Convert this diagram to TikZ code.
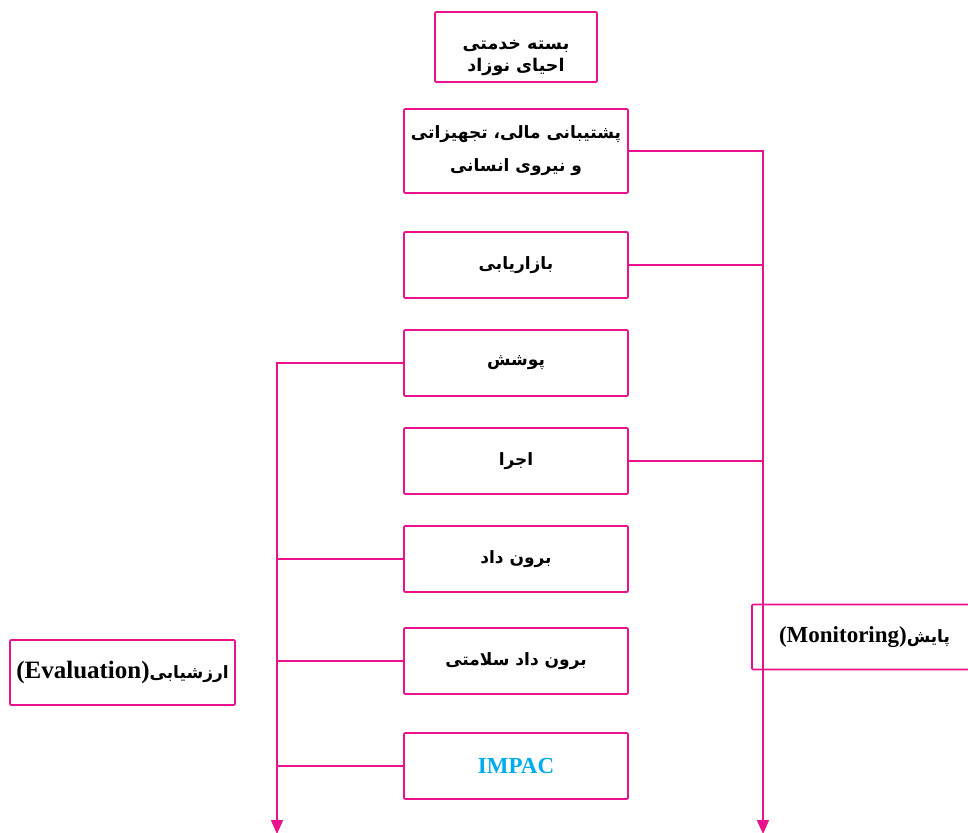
\documentclass[tikz,border=0pt]{standalone}
\usepackage{fontspec}
\usepackage{xcolor}
\usetikzlibrary{arrows.meta}
\setmainfont{Liberation Serif}
\newfontfamily\arabicfont[Script=Arabic]{DejaVu Sans}
\TeXXeTstate=1
\definecolor{linepink}{RGB}{234,18,140}
\definecolor{impaccyan}{RGB}{0,172,236}

\begin{document}
\begin{tikzpicture}[x=1pt, y=-1pt,
  stepbox/.style={draw=linepink, line width=1.6pt, rounded corners=1pt,
    minimum width=224pt, minimum height=66pt, inner sep=0pt, align=center,
    font=\arabicfont\bfseries\fontsize{17}{33}\selectfont},
  sidebox/.style={stepbox, minimum width=225pt, minimum height=65pt},
  link/.style={draw=linepink, line width=1.6pt},
  flow/.style={link, -{Triangle[width=12pt,length=14pt]}}]
\def\latinsize{\fontsize{23}{26}\selectfont}
\useasboundingbox (0,0) rectangle (968,832);

% TITLE
\node[stepbox, minimum width=162pt, minimum height=70pt,
  text height=56pt, text depth=6pt,
  font=\arabicfont\bfseries\fontsize{17.5}{22}\selectfont] (title) at (516,47)
  {\beginR بسته خدمتی\endR\\\beginR احیای نوزاد\endR};

% STEPS
\node[stepbox, minimum height=84pt] (support) at (516,151)
  {\beginR پشتیبانی مالی، تجهیزاتی\endR\\\beginR و نیروی انسانی\endR};
\node[stepbox] (marketing) at (516,265) {\beginR بازاریابی\endR};
\node[stepbox] (coverage) at (516,363) {\beginR پوشش\endR};
\node[stepbox] (execution) at (516,461) {\beginR اجرا\endR};
\node[stepbox] (output) at (516,559) {\beginR برون داد\endR};
\node[stepbox] (health) at (516,661) {\beginR برون داد سلامتی\endR};
\node[stepbox, font=\rmfamily\bfseries\latinsize, text=impaccyan] (impac) at (516,766) {IMPAC};

% SIDE LABELS
\node[sidebox] (evaluation) at (122.5,672.5)
  {\beginR ارزشیابی\beginL{\rmfamily\fontsize{25}{28}\selectfont(Evaluation)}\endL\endR};
\node[sidebox] (monitoring) at (864.5,637)
  {\beginR پایش\beginL{\rmfamily\latinsize(Monitoring)}\endL\endR};

% RIGHT BRANCH
\coordinate (monend) at (763,834);
\draw[flow] (support.east) -| (monend);
\draw[link] (marketing.east) -- (marketing.east -| monend);
\draw[link] (execution.east) -- (execution.east -| monend);

% LEFT BRANCH
\coordinate (evalend) at (277,834);
\draw[flow] (coverage.west) -| (evalend);
\draw[link] (output.west) -- (output.west -| evalend);
\draw[link] (health.west) -- (health.west -| evalend);
\draw[link] (impac.west) -- (impac.west -| evalend);
\end{tikzpicture}
\end{document}
